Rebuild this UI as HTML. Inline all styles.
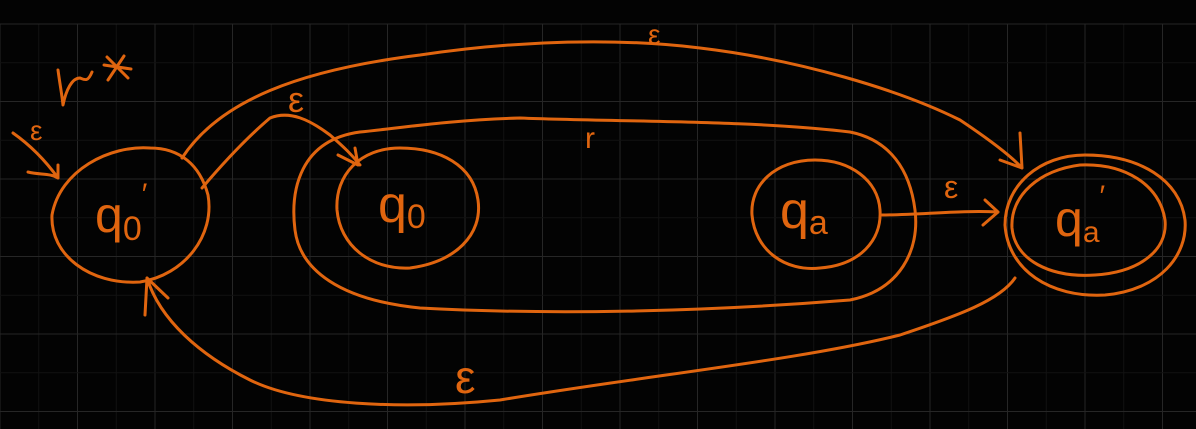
<!DOCTYPE html>
<html><head><meta charset="utf-8"><style>
html,body{margin:0;padding:0;background:#030303;}
svg{display:block}
text{font-family:"Liberation Sans",sans-serif;fill:#e0650f}
</style></head><body>
<svg width="1196" height="429" viewBox="0 0 1196 429">
<rect width="1196" height="429" fill="#030303"/>
<g id="grid"></g>
<g fill="none" stroke="#e0650f" stroke-width="3" stroke-linecap="round" stroke-linejoin="round">
 <path d="M150,148 C110,145 60,170 52,215 C50,255 90,285 140,282 C185,275 215,235 208,195 C200,165 180,148 150,148"/>
 <path d="M13,133 C30,145 45,160 58,178 M28,172 C40,175 50,173 58,178 M58,165 L58,178"/>
 <path d="M400,148 C360,148 335,175 337,210 C340,245 370,270 410,268 C455,262 483,235 478,200 C473,165 440,148 400,148"/>
 <path d="M815,160 C775,160 750,185 752,215 C755,250 785,272 820,268 C860,265 882,240 880,210 C878,180 850,160 815,160"/>
 <path d="M1085,155 C1040,155 1005,185 1005,225 C1008,270 1050,298 1105,295 C1160,290 1188,255 1185,220 C1180,180 1140,155 1085,155"/>
 <path d="M1080,165 C1040,170 1010,195 1012,228 C1015,260 1050,278 1095,275 C1140,272 1168,250 1165,220 C1160,185 1125,163 1080,165"/>
 <path d="M360,132 C300,140 290,190 295,230 C300,270 340,300 420,308 C550,315 700,312 850,300 C900,290 920,250 915,210 C910,170 890,140 850,132 C750,120 620,122 520,118 C450,120 400,128 360,132"/>
 <path d="M202,188 C230,155 250,135 270,118 C290,110 310,120 330,135 C345,148 352,155 360,165 M338,155 L358,165 L355,148"/>
 <path d="M182,158 C220,100 300,70 420,55 C520,40 620,38 700,48 C800,60 900,90 960,120 C990,140 1010,155 1022,168 M1000,160 L1022,168 L1020,133"/>
 <path d="M882,215 C920,215 960,210 998,212 M985,200 L998,212 L983,225"/>
 <path d="M1015,278 C1000,300 960,315 900,335 C800,360 650,375 500,400 C400,410 300,405 250,380 C200,355 160,320 147,278 M147,278 L145,315 M147,278 L168,298"/>
 <path d="M104,65 L131,69 M108,80 L124,56 M107,57 L128,78"/>
 <path d="M58,70 C60,85 62,95 63,105 C66,90 72,78 80,78 C85,80 88,82 92,72"/>
</g>
<text x="30" y="140" font-size="28">ε</text>
<text x="95" y="232" font-size="50">q<tspan font-size="34" dy="8">0</tspan><tspan font-size="30" dy="-36">′</tspan></text>
<text x="378" y="222" font-size="52">q<tspan font-size="34" dy="6">0</tspan></text>
<text x="780" y="228" font-size="52">q<tspan font-size="34" dy="6">a</tspan></text>
<text x="1055" y="236" font-size="50">q<tspan font-size="30" dy="6">a</tspan><tspan font-size="30" dy="-36">′</tspan></text>
<text x="288" y="112" font-size="36">ε</text>
<text x="648" y="44" font-size="28">ε</text>
<text x="585" y="148" font-size="30">r</text>
<text x="944" y="198" font-size="32">ε</text>
<text x="455" y="393" font-size="46">ε</text>
</svg>
<script>
var g=document.getElementById('grid');
for(var i=0;i<32;i++){var x=i*38.75;var l=document.createElementNS('http://www.w3.org/2000/svg','line');


l.setAttribute('x1',x);l.setAttribute('x2',x);l.setAttribute('y1',24);l.setAttribute('y2',429);
l.setAttribute('stroke',i%2==0?'#262626':'#121212');g.appendChild(l);}
for(var j=0;j<12;j++){var y=24+j*38.75;var m=document.createElementNS('http://www.w3.org/2000/svg','line');


m.setAttribute('x1',0);m.setAttribute('x2',1196);m.setAttribute('y1',y);m.setAttribute('y2',y);
m.setAttribute('stroke',j%2==0?'#262626':'#121212');g.appendChild(m);}
</script>
</body></html>
